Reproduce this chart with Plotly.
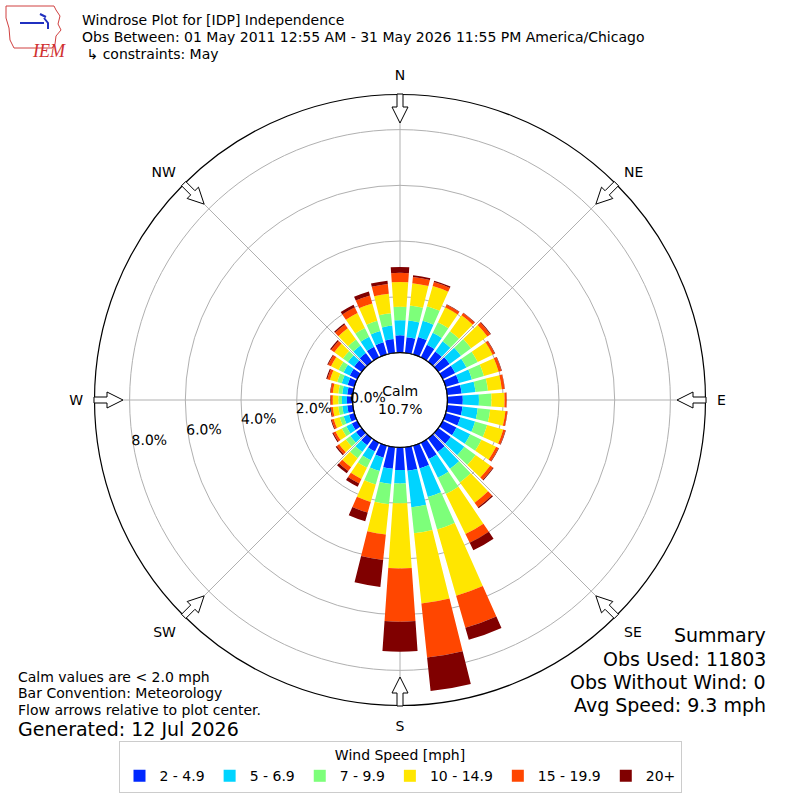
import numpy as np
import plotly.graph_objects as go

directions = list(range(0, 360, 10))
speed_bins = ["2 - 4.9", "5 - 6.9", "7 - 9.9", "10 - 14.9", "15 - 19.9", "20+"]
colors = ["#0028ff", "#00d4ff", "#7dff7a", "#ffe600", "#ff4600", "#800000"]
compass = ["N", "NE", "E", "SE", "S", "SW", "W", "NW"]
ring_vals = [0, 2, 4, 6, 8]
ring_text = [f"{v:.1f}%" for v in ring_vals]

# percent of observations per 10 deg direction bin (0, 10, ... 350)
spd_2_5 = [0.62, 0.56, 0.65, 0.50, 0.45, 0.50, 0.50, 0.50, 0.52, 0.55, 0.55, 0.55,
           0.55, 0.55, 0.60, 0.65, 0.85, 0.85, 0.81, 0.78, 0.45, 0.35, 0.30, 0.25,
           0.22, 0.20, 0.20, 0.20, 0.20, 0.25, 0.30, 0.33, 0.38, 0.42, 0.45, 0.50]
spd_5_7 = [0.54, 0.60, 0.60, 0.48, 0.45, 0.50, 0.45, 0.48, 0.50, 0.58, 0.55, 0.55,
           0.55, 0.60, 0.75, 0.75, 1.07, 1.32, 0.48, 0.55, 0.50, 0.35, 0.30, 0.25,
           0.22, 0.20, 0.18, 0.18, 0.18, 0.22, 0.25, 0.28, 0.33, 0.40, 0.42, 0.48]
spd_7_10 = [0.48, 0.55, 0.55, 0.42, 0.45, 0.45, 0.45, 0.45, 0.45, 0.45, 0.45, 0.45,
            0.45, 0.50, 0.60, 0.65, 1.21, 0.93, 0.71, 0.73, 0.50, 0.30, 0.28, 0.20,
            0.18, 0.15, 0.14, 0.13, 0.14, 0.17, 0.20, 0.22, 0.27, 0.35, 0.38, 0.45]
spd_10_15 = [0.89, 0.80, 0.75, 0.60, 0.70, 0.72, 0.60, 0.55, 0.50, 0.47, 0.55, 0.60,
             0.58, 0.65, 0.90, 1.60, 2.47, 2.54, 2.34, 1.09, 0.65, 0.45, 0.40, 0.30,
             0.25, 0.22, 0.20, 0.20, 0.20, 0.27, 0.30, 0.38, 0.50, 0.60, 0.65, 0.70]
spd_15_20 = [0.33, 0.22, 0.15, 0.10, 0.10, 0.13, 0.08, 0.10, 0.10, 0.07, 0.07, 0.08,
             0.10, 0.12, 0.20, 0.35, 1.20, 1.95, 1.91, 0.92, 0.40, 0.18, 0.17, 0.10,
             0.09, 0.08, 0.07, 0.07, 0.08, 0.10, 0.12, 0.14, 0.17, 0.23, 0.30, 0.35]
spd_20p = [0.21, 0.07, 0.05, 0.02, 0.02, 0.03, 0.02, 0.02, 0.01, 0.01, 0.01, 0.02,
           0.02, 0.03, 0.05, 0.30, 0.45, 1.21, 1.08, 0.97, 0.32, 0.13, 0.10, 0.05,
           0.04, 0.03, 0.03, 0.02, 0.02, 0.04, 0.03, 0.05, 0.05, 0.10, 0.15, 0.12]
series = [spd_2_5, spd_5_7, spd_7_10, spd_10_15, spd_15_20, spd_20p]

calm_pct = 10.7
rmax = 9.26

fig = go.Figure()
for name, vals, col in zip(speed_bins, series, colors):
    fig.add_trace(go.Barpolar(r=vals, theta=directions, width=8, name=name,
                              marker=dict(color=col, line=dict(width=0))))
# empty overlay subplot that only carries the % ring labels
fig.add_trace(go.Barpolar(r=[], theta=[], subplot="polar2", showlegend=False))

# centre of the polar area in pixels (800x800 page, no margins)
cx, cy, R = 400, 400, 305.5
hole_px = 47.5
scale = (R - hole_px) / rmax   # px per percent
lab_r0 = 13                    # labels sit inside their ring, like matplotlib


def to_paper(px, py):
    return px / 800, 1 - py / 800


def px_path(coords):
    s = ""
    for i, (px, py) in enumerate(coords):
        x, y = to_paper(px, py)
        s += ("M" if i == 0 else "L") + f"{x:.5f},{y:.5f} "
    return s


# outlined flow arrows at the rim
shapes = []
pts = [(306, -3), (293, -3), (293, -8), (277, 0), (293, 8), (293, 3), (306, 3)]
for b in range(0, 360, 45):
    a = np.radians(b)
    ux, uy = np.sin(a), -np.cos(a)
    vx, vy = np.cos(a), np.sin(a)
    coords = [(cx + s * ux + t * vx, cy + s * uy + t * vy) for s, t in pts]
    shapes.append(dict(type="path", path=px_path(coords) + "Z", xref="paper", yref="paper",
                       fillcolor="white", line=dict(color="black", width=1),
                       layer="above"))

# calm circle edge
x0, y0 = to_paper(cx - hole_px, cy + hole_px)
x1, y1 = to_paper(cx + hole_px, cy - hole_px)
shapes.append(dict(type="circle", xref="paper", yref="paper", x0=x0, y0=y0,
                   x1=x1, y1=y1, line=dict(color="black", width=1.3),
                   fillcolor="white", layer="below"))

# rough IEM logo: state outline plus small station glyph
iowa = [(6, 6), (54, 6), (56, 10), (60, 16), (58, 24), (61, 30), (56, 36), (55, 44),
        (52, 48), (14, 48), (10, 40), (9, 28), (6, 18)]
shapes.append(dict(type="path", xref="paper", yref="paper", path=px_path(iowa) + "Z",
                   line=dict(color="#d04040", width=1), fillcolor="rgba(0,0,0,0)"))
shapes.append(dict(type="path", xref="paper", yref="paper",
                   path=px_path([(20, 23), (44, 23)]) + px_path([(44, 18), (48, 23), (48, 29)])
                   + px_path([(40, 14), (46, 17)]),
                   line=dict(color="#2030c0", width=2)))

font = "DejaVu Sans, sans-serif"
ann = [
    dict(x=80 / 800, y=1 - 20 / 800, text="Windrose Plot for [IDP] Independence",
         xanchor="left", size=14),
    dict(x=80 / 800, y=1 - 37 / 800,
         text="Obs Between: 01 May 2011 12:55 AM - 31 May 2026 11:55 PM America/Chicago",
         xanchor="left", size=14),
    dict(x=80 / 800, y=1 - 54 / 800, text=" ↳ constraints: May", xanchor="left", size=14),
    dict(x=16 / 800, y=1 - 677 / 800, text="Calm values are < 2.0 mph", xanchor="left", size=14),
    dict(x=16 / 800, y=1 - 693 / 800, text="Bar Convention: Meteorology", xanchor="left", size=14),
    dict(x=16 / 800, y=1 - 710 / 800, text="Flow arrows relative to plot center.",
         xanchor="left", size=14),
    dict(x=16 / 800, y=1 - 729 / 800, text="Generated: 12 Jul 2026", xanchor="left", size=19),
    dict(x=768 / 800, y=1 - 635 / 800, text="Summary", xanchor="right", size=19),
    dict(x=768 / 800, y=1 - 659 / 800, text="Obs Used: 11803", xanchor="right", size=19),
    dict(x=768 / 800, y=1 - 682 / 800, text="Obs Without Wind: 0", xanchor="right", size=19),
    dict(x=768 / 800, y=1 - 705 / 800, text="Avg Speed: 9.3 mph", xanchor="right", size=19),
    dict(x=0.5, y=0.5, text=f"Calm<br>{calm_pct}%", xanchor="center", size=14),
]
annotations = []
for a in ann:
    annotations.append(dict(x=a["x"], y=a["y"], xref="paper", yref="paper",
                            text=a["text"], xanchor=a["xanchor"], yanchor="middle",
                            showarrow=False, font=dict(size=a["size"], color="black",
                                                       family=font)))
annotations.append(dict(x=30 / 800, y=1 - 39 / 800, xref="paper", yref="paper",
                        text="<i>IEM</i>", showarrow=False,
                        font=dict(size=18, color="#d03030", family="Liberation Serif, serif")))

d0 = (cx - R) / 800
d1 = (cx + R) / 800
dom = dict(x=[d0, d1], y=[1 - d1, 1 - d0])
fig.update_layout(
    width=800, height=800,
    margin=dict(l=0, r=0, t=0, b=0),
    paper_bgcolor="white",
    font=dict(family=font, size=14, color="black"),
    polar=dict(
        domain=dom,
        hole=hole_px / R,
        bgcolor="white",
        barmode="stack",
        bargap=0,
        radialaxis=dict(range=[0, rmax], tickvals=ring_vals, showticklabels=False,
                        showline=False, ticks="", gridcolor="#b0b0b0", gridwidth=1),
        angularaxis=dict(direction="clockwise", rotation=90,
                         tickvals=list(range(0, 360, 45)), ticktext=compass,
                         showline=True, linecolor="black", linewidth=1.2,
                         gridcolor="#b0b0b0", gridwidth=1,
                         ticks="outside", ticklen=8, tickcolor="rgba(0,0,0,0)",
                         tickfont=dict(size=14)),
    ),
    polar2=dict(
        domain=dom,
        bgcolor="rgba(0,0,0,0)",
        radialaxis=dict(range=[-lab_r0 / scale, (R - lab_r0) / scale],
                        tickvals=ring_vals, ticktext=ring_text,
                        angle=191, tickangle=-170, showline=False, showgrid=False,
                        ticks="", tickfont=dict(size=14)),
        angularaxis=dict(visible=False, direction="clockwise", rotation=90),
    ),
    legend=dict(orientation="h", x=0.5, xanchor="center", y=1 - 741 / 800,
                yanchor="top", bordercolor="#cccccc", borderwidth=1,
                title=dict(text="Wind Speed [mph]", side="top center",
                           font=dict(size=14)),
                font=dict(size=14)),
    shapes=shapes,
    annotations=annotations,
)

fig.write_html("out.html", config={"displayModeBar": False},
               post_script="document.body.style.margin='0px';")
